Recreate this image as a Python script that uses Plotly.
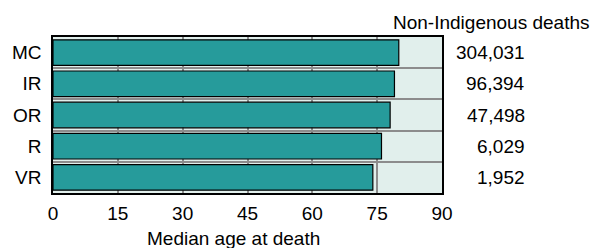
import plotly.graph_objects as go

categories = ["MC", "IR", "OR", "R", "VR"]
median_age = [80.0, 79.0, 78.0, 76.0, 74.0]
deaths_labels = ["304,031", "96,394", "47,498", "6,029", "1,952"]
x_ticks = [0, 15, 30, 45, 60, 75, 90]

FONT = "Arial, Liberation Sans, sans-serif"
FS = 19
TEAL = "#269B9B"
BG = "#E1EFEC"
GRID = "#8C8C8C"

ypos = list(range(len(categories)))

fig = go.Figure()
fig.add_trace(go.Bar(
    x=median_age, y=ypos, orientation="h", width=0.82,
    marker=dict(color=TEAL, line=dict(color="black", width=1.2)),
    hoverinfo="skip", showlegend=False,
))

for i, lab in enumerate(deaths_labels):
    fig.add_annotation(x=1.2185, y=ypos[i], xref="paper", yref="y",
                       text=lab, showarrow=False, xanchor="right", yanchor="middle",
                       font=dict(family=FONT, size=FS, color="black"))

fig.add_annotation(x=1.126, y=1.0, xref="paper", yref="paper", yshift=15,
                   text="Non-Indigenous deaths", showarrow=False,
                   xanchor="center", yanchor="middle",
                   font=dict(family=FONT, size=FS, color="black"))
fig.add_annotation(x=0.463, y=-0.289, xref="paper", yref="paper",
                   text="Median age at death", showarrow=False,
                   xanchor="center", yanchor="middle",
                   font=dict(family=FONT, size=FS, color="black"))

fig.update_layout(
    template="none",
    width=592, height=240,
    margin=dict(l=45, r=158, t=29, b=55, pad=0),
    paper_bgcolor="white", plot_bgcolor=BG,
    font=dict(family=FONT, size=FS, color="black"),
    xaxis=dict(range=[0, 90], tickvals=x_ticks, showgrid=True, gridcolor=GRID,
               gridwidth=1.5, zeroline=False, showline=True, linecolor="black",
               linewidth=1.5, mirror=True, ticks="", ticklabelstandoff=2,
               automargin=False, tickfont=dict(size=FS)),
    yaxis=dict(range=[len(categories) - 0.5, -0.5], tickvals=ypos, ticktext=categories,
               showgrid=False, zeroline=False, showline=True, linecolor="black",
               linewidth=1.5, mirror=True, ticks="", ticklabelstandoff=6,
               automargin=False, tickfont=dict(size=FS),
               minor=dict(tickvals=[p + 0.5 for p in ypos[:-1]], showgrid=True,
                          gridcolor=GRID, gridwidth=1.5, ticks="")),
)

fig.write_html("out.html")
